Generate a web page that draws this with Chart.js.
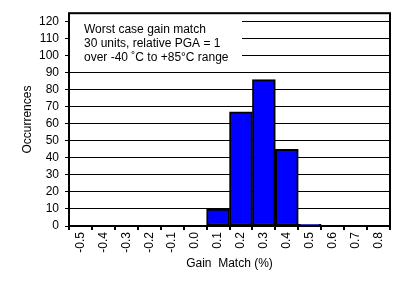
<!DOCTYPE html>
<html>
<head>
<meta charset="utf-8">
<script src="https://cdn.jsdelivr.net/npm/chart.js@4/dist/chart.umd.min.js"></script>
<style>
  html, body { margin: 0; padding: 0; background: #fff; }
  #wrap { width: 406px; height: 281px; }
</style>
</head>
<body>
<div id="wrap"><canvas id="myChart"></canvas></div>
<script>
const bins = ["-0.5", "-0.4", "-0.3", "-0.2", "-0.1", "0.0", "0.1", "0.2", "0.3", "0.4", "0.5", "0.6", "0.7", "0.8"];
const occurrences = [0, 0, 0, 0, 0, 0, 10, 67, 86, 45, 1, 0, 0, 0];
const yTicks = [0, 10, 20, 30, 40, 50, 60, 70, 80, 90, 100, 110, 120];
const noteLines = ["Worst case gain match", "30 units, relative PGA = 1", "over -40 \u02DAC to +85\u00B0C range"];

const font = "Liberation Sans, Arial, sans-serif";

const ctx = document.getElementById("myChart");

// white box with the test conditions, over the top gridlines
const notePlugin = {
  id: "note",
  beforeDatasetsDraw: function (chart) {
    const c = chart.ctx;
    const a = chart.chartArea;
    c.save();
    c.fillStyle = "#fff";
    c.fillRect(a.left + 1, a.top + 1, 172, 52);
    c.fillStyle = "#000";
    c.font = "12px " + font;
    c.textBaseline = "middle";
    noteLines.forEach(function (t, i) {
      c.fillText(t, a.left + 15, a.top + 16 + i * 14.3);
    });
    c.restore();
  },
  afterDraw: function (chart) {
    const c = chart.ctx;
    const a = chart.chartArea;
    c.save();
    c.strokeStyle = "#000";
    c.lineWidth = 2;
    c.strokeRect(a.left, a.top, a.right - a.left, a.bottom - a.top);
    c.restore();
  },
};

const chart = new Chart(ctx, {
  type: "bar",
  data: {
    labels: bins,
    datasets: [
      {
        label: "Occurrences",
        data: occurrences,
        backgroundColor: "#0000FF",
        borderColor: "#000",
        borderWidth: 2,
        borderSkipped: false,
        barPercentage: 1,
        categoryPercentage: 1,
      },
    ],
  },
  options: {
    responsive: true,
    maintainAspectRatio: false,
    animation: false,
    layout: { padding: { top: 5, right: 16, left: 0, bottom: 0 } },
    plugins: {
      legend: { display: false },
      tooltip: { enabled: false },
    },
    scales: {
      x: {
        offset: true,
        grid: {
          offset: true,
          drawOnChartArea: false,
          drawTicks: true,
          tickLength: 4,
          color: "#000",
          lineWidth: 2,
        },
        border: { display: false },
        ticks: {
          color: "#000",
          font: { family: font, size: 12 },
          maxRotation: 90,
          minRotation: 90,
          padding: 2,
          autoSkip: false,
        },
        title: {
          display: true,
          text: "Gain  Match (%)",
          color: "#000",
          font: { family: font, size: 12 },
          padding: { top: 0, bottom: 10 },
        },
        afterFit: function (scale) {
          scale.height = 55;
        },
      },
      y: {
        min: 0,
        max: 125,
        grid: {
          color: "#000",
          lineWidth: 1,
          drawTicks: true,
          tickLength: 4,
        },
        border: { display: false },
        ticks: {
          color: "#000",
          font: { family: font, size: 12 },
          padding: 6,
          autoSkip: false,
        },
        afterBuildTicks: function (scale) {
          scale.ticks = yTicks.map(function (v) {
            return { value: v };
          });
        },
        title: {
          display: true,
          text: "Occurrences",
          color: "#000",
          font: { family: font, size: 12 },
          padding: { top: 20, bottom: 0 },
        },
        afterFit: function (scale) {
          scale.width = 69;
        },
      },
    },
  },
  plugins: [notePlugin],
});
</script>
</body>
</html>
